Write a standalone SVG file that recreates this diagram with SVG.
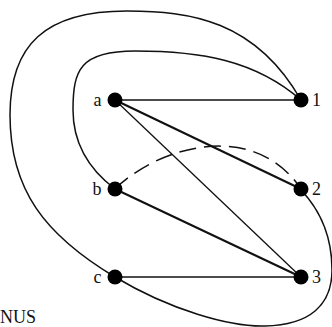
<svg xmlns="http://www.w3.org/2000/svg" width="332" height="327" viewBox="0 0 332 327">
<style>
.lbl{font-family:"Liberation Serif","Times New Roman",serif;font-size:18px;fill:#111}
.c{fill:none;stroke:#111;stroke-width:1.5}
.thin{stroke:#111;stroke-width:1.3}
.thick{stroke:#111;stroke-width:2.1}
.dash{fill:none;stroke:#111;stroke-width:1.5;stroke-dasharray:17 8}
.n{fill:#000}
</style>
<rect width="332" height="327" fill="#fff"/>
<g id="connectors">
<path class="c" d="M301,100 C255,20 190,11 127,11 C45,11 10,45 10,115 C10,190 45,235 115,277 C170,310 230,327 265,326 C310,325 332,305 332,270 C332,235 320,210 301,190"/>
<path class="c" d="M301,100 C255,60 200,51 135,51 C80,51 73,70 73,110 C73,145 90,170 115,189"/>
<path class="dash" d="M115,189 C160,145 255,120 301,189"/>
<line class="thin" x1="115" y1="100" x2="301" y2="100"/>
<line class="thick" x1="115" y1="100" x2="301" y2="189"/>
<line class="thin" x1="115" y1="100" x2="301" y2="277"/>
<line class="thick" x1="115" y1="189" x2="301" y2="277"/>
<line class="thin" x1="115" y1="277" x2="301" y2="277"/>
</g>
<g id="node-a"><circle class="n" cx="115" cy="100" r="7.5"/><text class="lbl" x="101.5" y="105.5" text-anchor="end">a</text></g>
<g id="node-b"><circle class="n" cx="115" cy="189" r="7.5"/><text class="lbl" x="101.5" y="194.5" text-anchor="end">b</text></g>
<g id="node-c"><circle class="n" cx="115" cy="277" r="7.5"/><text class="lbl" x="101.5" y="282.5" text-anchor="end">c</text></g>
<g id="node-1"><circle class="n" cx="301" cy="100" r="7.5"/><text class="lbl" x="312" y="106">1</text></g>
<g id="node-2"><circle class="n" cx="301" cy="189" r="7.5"/><text class="lbl" x="312" y="194.5">2</text></g>
<g id="node-3"><circle class="n" cx="301" cy="277" r="7.5"/><text class="lbl" x="312" y="283">3</text></g>
<text class="lbl" x="0" y="323">NUS</text>
</svg>
